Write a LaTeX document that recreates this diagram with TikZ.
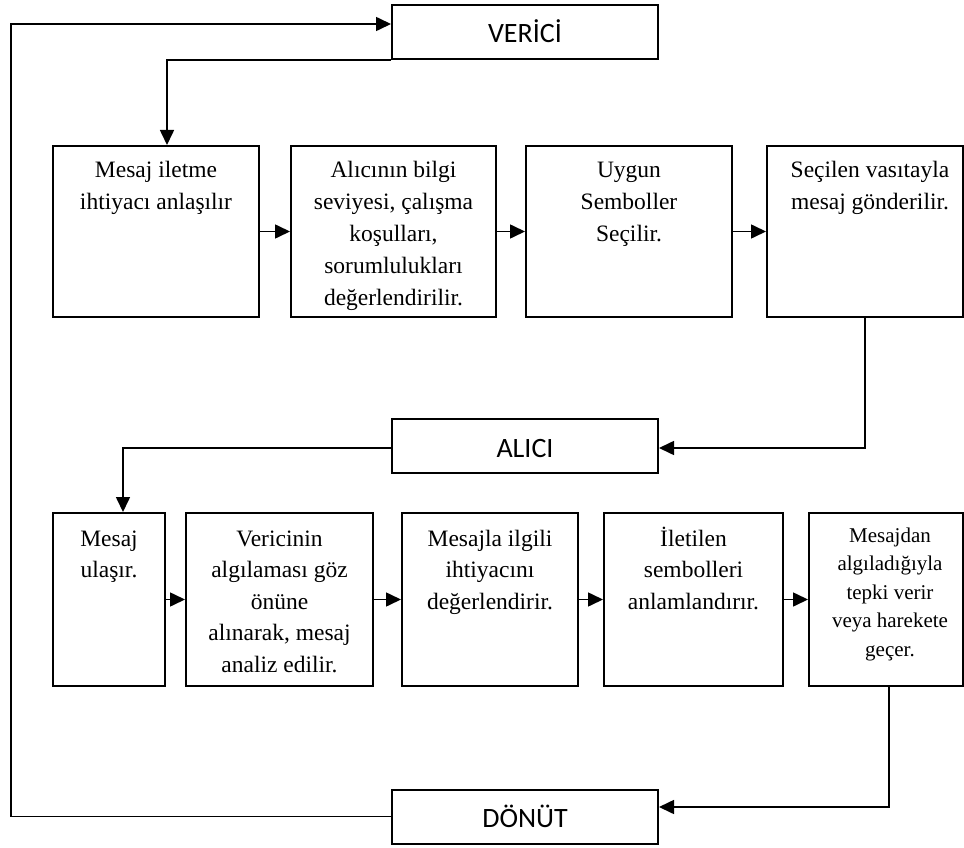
\documentclass[tikz,border=0pt]{standalone}
\usepackage{fontspec}
\setmainfont{Liberation Serif}
\newfontfamily\labelfont{Carlito}
\usetikzlibrary{arrows.meta}
\begin{document}
\begin{tikzpicture}[x=1pt,y=-1pt,
  box/.style={draw, line width=2pt, rectangle, inner sep=0pt},
  tagbox/.style={box, minimum width=266pt, minimum height=54pt,
    font=\labelfont\fontsize{28}{28}\selectfont, text height=22pt, text depth=0pt},
  rowone/.style={box, minimum height=171pt},
  rowtwo/.style={box, minimum height=173pt},
  txt/.style={anchor=north, align=center, inner sep=0pt, font=\fontsize{23.5}{32}\selectfont},
  txtb/.style={txt, font=\fontsize{23.5}{31.5}\selectfont},
  txtsmall/.style={txt, font=\fontsize{21}{28.5}\selectfont},
  link/.style={line width=1.6pt, -{Triangle[length=15pt,width=14pt]}}]
\useasboundingbox (0,0) rectangle (964,848);

% stage labels
\node[tagbox] (ver) at (525,32) {VERİCİ};
\node[tagbox] (ali) at (525,446) {ALICI};
\node[tagbox] (don) at (525,816.5) {DÖNÜT};

% sender steps
\node[rowone, minimum width=206pt] (b1) at (156,231.5) {};
\node[rowone, minimum width=205pt] (b2) at (393.5,231.5) {};
\node[rowone, minimum width=206pt] (b3) at (629,231.5) {};
\node[rowone, minimum width=196pt] (b4) at (865,231.5) {};

% each text block starts with a strut so its first baseline sits at a fixed depth
\node[txt] (b1t) at ([yshift=-9.6pt]b1.north) {\strut Mesaj iletme\\ihtiyacı anlaşılır};
\node[txt] (b2t) at ([yshift=-9.6pt]b2.north) {\strut Alıcının bilgi\\seviyesi, çalışma\\koşulları,\\sorumlulukları\\değerlendirilir.};
\node[txt] (b3t) at ([yshift=-9.6pt]b3.north) {\strut Uygun\\Semboller\\Seçilir.};
\node[txt] (b4t) at ([yshift=-9.6pt,xshift=5pt]b4.north) {\strut Seçilen vasıtayla\\mesaj gönderilir.};

% receiver steps
\node[rowtwo, minimum width=112pt] (c1) at (109,599.5) {};
\node[rowtwo, minimum width=187pt] (c2) at (279.5,599.5) {};
\node[rowtwo, minimum width=176pt] (c3) at (490,599.5) {};
\node[rowtwo, minimum width=179pt] (c4) at (693.5,599.5) {};
\node[rowtwo, minimum width=154pt] (c5) at (886,599.5) {};

\node[txtb] (c1t) at ([yshift=-12pt]c1.north) {\strut Mesaj\\ulaşır.};
\node[txtb] (c2t) at ([yshift=-12pt]c2.north) {\strut Vericinin\\algılaması göz\\önüne\\alınarak, mesaj\\analiz edilir.};
\node[txtb] (c3t) at ([yshift=-12pt]c3.north) {\strut Mesajla ilgili\\ihtiyacını\\değerlendirir.};
\node[txtb] (c4t) at ([yshift=-12pt]c4.north) {\strut İletilen\\sembolleri\\anlamlandırır.};
\node[txtsmall] (c5t) at ([yshift=-10pt,xshift=4pt]c5.north) {\strut Mesajdan\\algıladığıyla\\tepki verir\\veya harekete\\geçer.};

% connectors
\coordinate (tl) at (11,24);
\draw[link] (don.west) -| (tl) -- (tl -| ver.west);
\draw[link] (ver.south west) -| ([xshift=11pt]b1.north);
\draw[link] (b1.east) -- (b2.west);
\draw[link] (b2.east) -- (b3.west);
\draw[link] (b3.east) -- (b4.west);
\draw[link] (b4.south) |- ([yshift=-2pt]ali.east);
\draw[link] ([yshift=-2pt]ali.west) -| ([xshift=14pt]c1.north);
\draw[link] (c1.east) -- (c2.west);
\draw[link] (c2.east) -- (c3.west);
\draw[link] (c3.east) -- (c4.west);
\draw[link] (c4.east) -- (c5.west);
\draw[link] ([xshift=3pt]c5.south) |- ([yshift=9.5pt]don.east);
\end{tikzpicture}
\end{document}
